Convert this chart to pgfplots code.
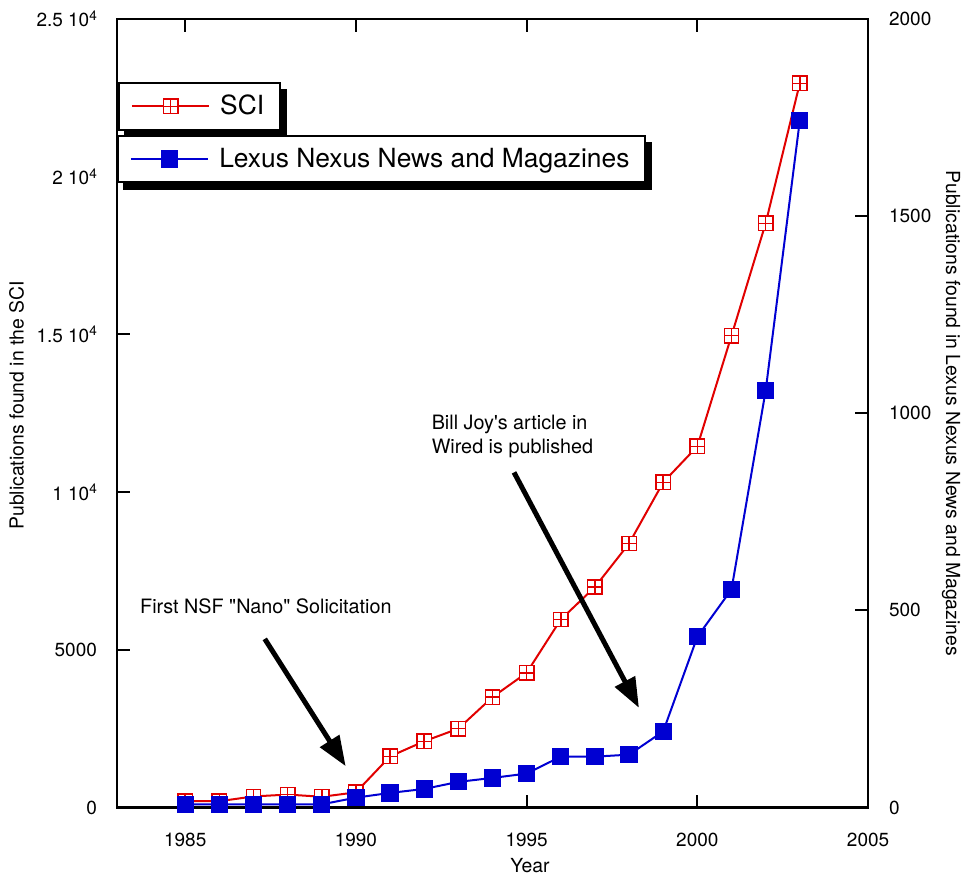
\documentclass[border=0pt]{standalone}
\usepackage{fontspec}
\setmainfont{TeX Gyre Heros}
\usepackage{pgfplots}
\pgfplotsset{compat=1.18}
\usetikzlibrary{arrows.meta}
\pgfdeclarelayer{shadowlayer}
\pgfsetlayers{shadowlayer,main}
\definecolor{sciRed}{RGB}{225,0,0}
\definecolor{lnBlue}{RGB}{0,0,210}
\pgfdeclareplotmark{gridsq}{%
 \pgfpathrectangle{\pgfqpoint{-\pgfplotmarksize}{-\pgfplotmarksize}}{\pgfqpoint{2\pgfplotmarksize}{2\pgfplotmarksize}}%
 \pgfusepathqfillstroke
 \pgfpathmoveto{\pgfqpoint{-\pgfplotmarksize}{0pt}}\pgfpathlineto{\pgfqpoint{\pgfplotmarksize}{0pt}}%
 \pgfpathmoveto{\pgfqpoint{0pt}{-\pgfplotmarksize}}\pgfpathlineto{\pgfqpoint{0pt}{\pgfplotmarksize}}%
 \pgfusepathqstroke}
\newcommand{\tenexp}[1]{\raisebox{3.3pt}{\fontsize{6.8}{7}\selectfont #1}}
\pgfplotsset{
 common/.style={
  scale only axis, width=375.8pt, height=394.5pt,
  xmin=1983, xmax=2005,
  tick align=inside, major tick length=6.5pt,
  tick style={line width=1pt,black},
  axis line style={line width=1.3pt},
  /pgf/number format/assume math mode=true,
  /pgf/number format/1000 sep={},
  tick label style={font=\fontsize{9.5}{11}\selectfont},
  label style={font=\fontsize{9.7}{11}\selectfont},
  legend cell align=left,
  legend image code/.code={\draw[mark repeat=2,mark phase=2] plot coordinates {(0cm,0cm) (0.68cm,0cm) (1.36cm,0cm)};},
  legend style={font=\fontsize{13.2}{15}\selectfont, draw=black, line width=1pt, fill=white,
   inner xsep=6pt, inner ysep=4pt, anchor=north west},
 }
}
\pgfplotstableread{
year sci
1985 200
1986 200
1987 350
1988 410
1989 340
1990 480
1991 1620
1992 2100
1993 2500
1994 3500
1995 4270
1996 5960
1997 6990
1998 8370
1999 10310
2000 11450
2001 14960
2002 18520
2003 22960
}\scidata
\pgfplotstableread{
year lexus
1985 8
1986 8
1987 8
1988 8
1989 8
1990 25
1991 37
1992 47
1993 65
1994 75
1995 86
1996 129
1997 129
1998 134
1999 193
2000 433
2001 553
2002 1057
2003 1742
}\lexusdata
\begin{document}
\begin{tikzpicture}
\begin{axis}[common, name=main,
  ymin=0, ymax=25000,
  ytick={0,5000,10000,15000,20000,25000},
  yticklabels={0,5000,{1 10\tenexp{4}},{1.5 10\tenexp{4}},{2 10\tenexp{4}},{2.5 10\tenexp{4}}},
  xtick={1985,1990,1995,2000,2005},
  xticklabels={1985,1990,1995,2000,2005},
  ytick pos=left,
  xticklabel style={yshift=-9pt},
  yticklabel style={xshift=-6.5pt},
  xlabel={Year},
  xlabel style={at={(axis description cs:0.55,-0.0735)}, anchor=center},
  ylabel={Publications found in the SCI},
  ylabel style={at={(axis description cs:-0.1335,0.51)}, anchor=center},
  legend style={at={(axis description cs:0.0013,0.92)}, name=legA},
 ]
 \addplot[color=sciRed, line width=1pt, mark=gridsq, mark size=3.6pt,
   mark options={fill=white, line width=0.75pt}] table[x=year,y=sci] {\scidata};
 \addlegendentry{\hspace{3pt}SCI}
 \draw[line width=2.5pt, -{Triangle[length=15pt,width=11pt]}] (axis cs:1987.33,5345) -- (axis cs:1989.70,1309);
 \draw[line width=2.5pt, -{Triangle[length=15pt,width=11pt]}] (axis cs:1994.63,10624) -- (axis cs:1998.29,3159);
 \node[anchor=west, font=\fontsize{9.9}{12}\selectfont, inner sep=0pt] at (axis cs:1983.67,6369) {First NSF \textquotedbl Nano\textquotedbl{} Solicitation};
 \node[anchor=west, align=left, font=\fontsize{9.9}{12.2}\selectfont, inner sep=0pt] at (axis cs:1992.21,11755) {Bill Joy\textquotesingle s article in\\Wired is published};
\end{axis}
\begin{axis}[common,
  ymin=0, ymax=2000,
  ytick={0,500,1000,1500,2000},
  axis y line*=right, axis x line=none,
  yticklabel style={xshift=7pt},
  ylabel={Publications found in Lexus Nexus News and Magazines},
  ylabel style={at={(axis description cs:1.1106,0.5)}, anchor=center, rotate=180},
  legend style={at={(axis description cs:0,0.853)}, name=legB},
 ]
 \addplot[color=lnBlue, line width=1pt, mark=square*, mark size=4pt,
   mark options={fill=lnBlue, line width=0.6pt, rounded corners=1pt}] table[x=year,y=lexus] {\lexusdata};
 \addlegendentry{\hspace{3pt}Lexus Nexus News and Magazines\hspace{14pt}}
\end{axis}
\begin{pgfonlayer}{shadowlayer}
 \fill[black] ([shift={(3pt,-3.5pt)}]legA.south west) rectangle ([shift={(3pt,-3.5pt)}]legA.north east);
 \fill[black] ([shift={(3pt,-3.5pt)}]legB.south west) rectangle ([shift={(3pt,-3.5pt)}]legB.north east);
\end{pgfonlayer}
\pgfresetboundingbox
\path ([shift={(-58.5pt,-34pt)}]main.south west) rectangle ([shift={(49.5pt,9.5pt)}]main.north east);
\end{tikzpicture}
\end{document}
